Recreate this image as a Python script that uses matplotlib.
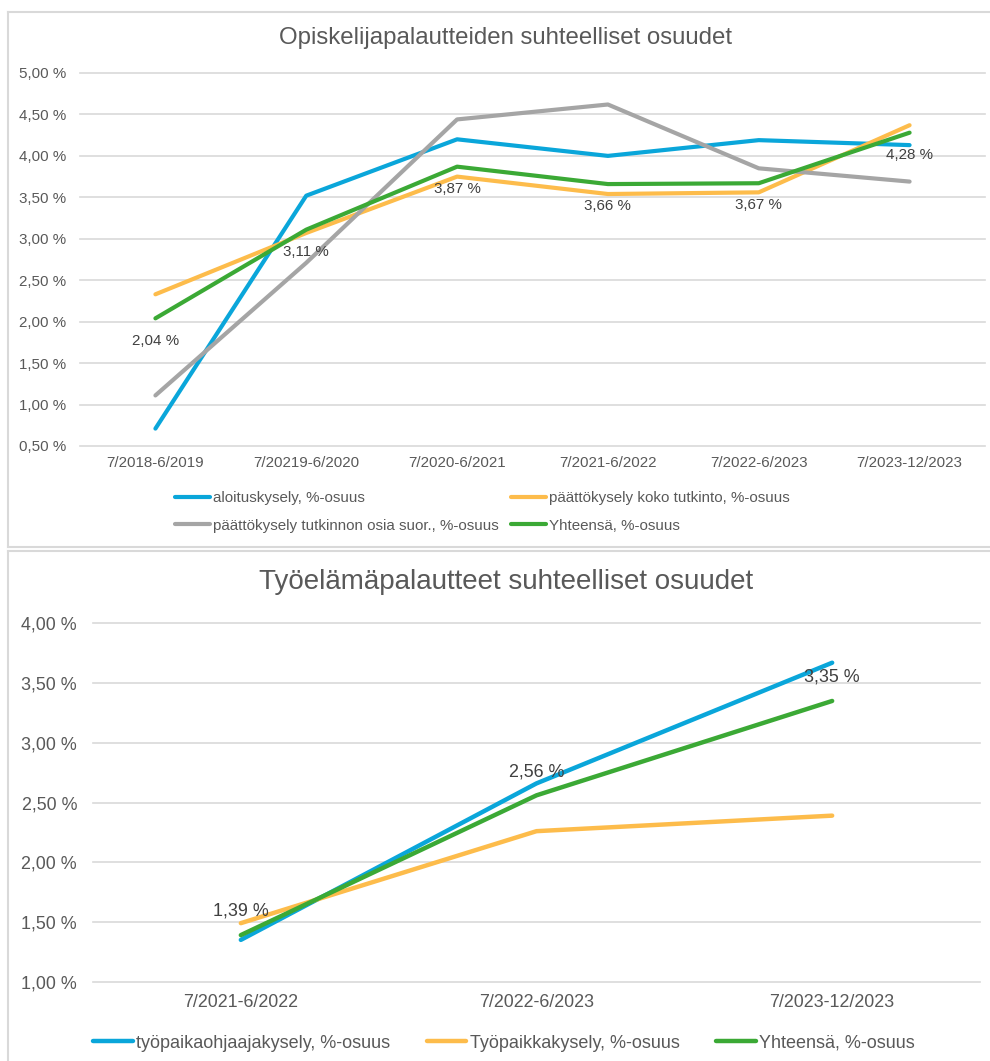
import matplotlib
matplotlib.use("Agg")
import matplotlib.pyplot as plt
from matplotlib.lines import Line2D
from matplotlib.ticker import FuncFormatter

plt.rcParams['font.family'] = ['Liberation Sans', 'DejaVu Sans']

# --- top chart: opiskelijapalautteet ---
periods_top = ["7/2018-6/2019", "7/20219-6/2020", "7/2020-6/2021",
               "7/2021-6/2022", "7/2022-6/2023", "7/2023-12/2023"]
aloitus = [0.71, 3.52, 4.20, 4.00, 4.19, 4.13]
koko_tutkinto = [2.33, 3.07, 3.75, 3.54, 3.56, 4.37]
osia_suor = [1.11, 2.71, 4.44, 4.62, 3.85, 3.69]
yhteensa_top = [2.04, 3.11, 3.87, 3.66, 3.67, 4.28]

# --- bottom chart: työelämäpalautteet ---
periods_bot = ["7/2021-6/2022", "7/2022-6/2023", "7/2023-12/2023"]
ohjaaja = [1.35, 2.66, 3.67]
tyopaikka = [1.49, 2.26, 2.39]
yhteensa_bot = [1.39, 2.56, 3.35]

BLUE = "#0AA6DA"
ORANGE = "#FDBC4B"
GRAY = "#A5A5A5"
GREEN = "#3BA935"
TXT = "#595959"
GRID = "#D9D9D9"

W, H = 990, 1061
fig = plt.figure(figsize=(W / 100, H / 100), dpi=100)


def fx(px):
    return px / W


def fy(py):
    return 1 - py / H


def pct(v, _):
    return "{:.2f} %".format(v).replace(".", ",")


def style_axes(ax, fs, pad_y, pad_x):
    for s in ax.spines.values():
        s.set_visible(False)
    ax.tick_params(length=0, colors=TXT, labelsize=fs)
    ax.tick_params(axis='y', pad=pad_y)
    ax.tick_params(axis='x', pad=pad_x)
    ax.yaxis.set_major_formatter(FuncFormatter(pct))
    ax.grid(axis='y', color=GRID, lw=1.2)
    ax.set_axisbelow(True)
    for gl in ax.get_ygridlines():
        gl.set_clip_on(False)


# chart frames
for seg in [((7.5, 7.5), (11.5, 546.5)), ((7.5, W), (11.5, 11.5)), ((7.5, W), (546.5, 546.5)),
            ((7.5, 7.5), (551, H)), ((7.5, W), (551, 551))]:
    fig.add_artist(Line2D([fx(v) for v in seg[0]], [fy(v) for v in seg[1]], color=GRID, lw=1.5))

# top chart
ax1 = fig.add_axes([fx(80), fy(446), fx(905), (446 - 73) / H])
xs = range(len(periods_top))
l_al, = ax1.plot(xs, aloitus, color=BLUE, lw=3, label="aloituskysely, %-osuus", solid_capstyle='round')
l_ko, = ax1.plot(xs, koko_tutkinto, color=ORANGE, lw=3, label="päättökysely koko tutkinto, %-osuus", solid_capstyle='round')
l_os, = ax1.plot(xs, osia_suor, color=GRAY, lw=3, label="päättökysely tutkinnon osia suor., %-osuus", solid_capstyle='round')
l_yh, = ax1.plot(xs, yhteensa_top, color=GREEN, lw=3, label="Yhteensä, %-osuus", solid_capstyle='round')
ax1.set_xlim(-0.5, len(periods_top) - 0.5)
ax1.set_ylim(0.5, 5.0)
ax1.set_yticks([0.5 + 0.5 * i for i in range(10)])
ax1.set_xticks(list(xs))
ax1.set_xticklabels(periods_top)
style_axes(ax1, 10.9, 10, 7)
for x, v in zip(xs, yhteensa_top):
    ax1.annotate(pct(v, None), (x, v), xytext=(0, -16), textcoords='offset points',
                 ha='center', va='center', fontsize=10.9, color="#404040")
fig.text(fx(506), fy(38), "Opiskelijapalautteiden suhteelliset osuudet", ha='center', va='center',
         fontsize=17.3, color=TXT)
fig.legend(handles=[l_al, l_os, l_ko, l_yh], ncol=2, loc='upper left',
           bbox_to_anchor=(fx(175), fy(491)), frameon=False, fontsize=10.9,
           handlelength=2.3, handletextpad=0.2, columnspacing=0.85, labelspacing=0.9,
           borderpad=0, borderaxespad=0, labelcolor=TXT)

# bottom chart
ax2 = fig.add_axes([fx(93), fy(981.7), fx(887), (981.7 - 623.3) / H])
xb = range(len(periods_bot))
b_oh, = ax2.plot(xb, ohjaaja, color=BLUE, lw=3.2, label="työpaikaohjaajakysely, %-osuus", solid_capstyle='round')
b_ty, = ax2.plot(xb, tyopaikka, color=ORANGE, lw=3.2, label="Työpaikkakysely, %-osuus", solid_capstyle='round')
b_yh, = ax2.plot(xb, yhteensa_bot, color=GREEN, lw=3.2, label="Yhteensä, %-osuus", solid_capstyle='round')
ax2.set_xlim(-0.5, len(periods_bot) - 0.5)
ax2.set_ylim(1.0, 4.0)
ax2.set_yticks([1.0 + 0.5 * i for i in range(7)])
ax2.set_xticks(list(xb))
ax2.set_xticklabels(periods_bot)
style_axes(ax2, 12.9, 11.5, 9)
for x, v in zip(xb, yhteensa_bot):
    ax2.annotate(pct(v, None), (x, v), xytext=(0, 17), textcoords='offset points',
                 ha='center', va='center', fontsize=12.9, color="#404040")
fig.text(fx(506), fy(582), "Työelämäpalautteet suhteelliset osuudet", ha='center', va='center',
         fontsize=20, color=TXT)
fig.legend(handles=[b_oh, b_ty, b_yh], ncol=3, loc='center left',
           bbox_to_anchor=(fx(93), fy(1043)), frameon=False, fontsize=13.0,
           handlelength=2.2, handletextpad=0.2, columnspacing=2.0,
           borderpad=0, borderaxespad=0, labelcolor=TXT)

fig.savefig("out.png", dpi=100, facecolor="white")
